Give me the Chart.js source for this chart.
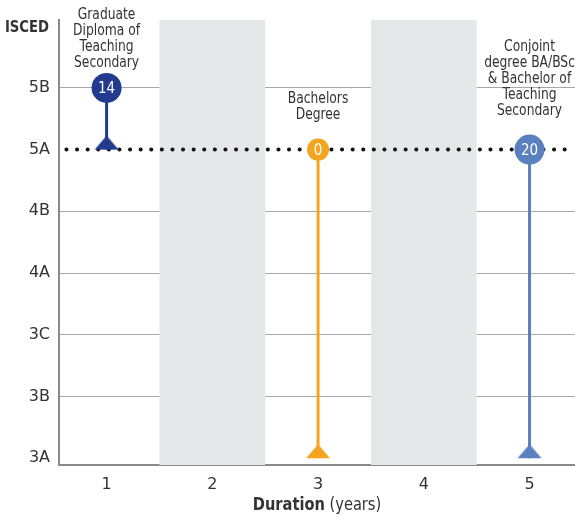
<!DOCTYPE html>
<html>
<head>
<meta charset="utf-8">
<script src="https://cdn.jsdelivr.net/npm/chart.js@4"></script>
<style>
body{margin:0;background:#fff;}
#wrap{width:575px;height:517px;}
</style>
</head>
<body>
<div id="wrap"><canvas id="c" width="575" height="517"></canvas></div>
<script>
// ISCED levels, bottom to top
const levels=["3A","3B","3C","4A","4B","5A","5B"];
const years=[1,2,3,4,5];
const shadedYears=[2,4];

const programmes=[
 ["Graduate","Diploma of","Teaching","Secondary"],
 ["Bachelors","Degree"],
 ["Conjoint","degree BA/BSc","& Bachelor of","Teaching","Secondary"]
];
const durations=[1,3,5];
const entryLevel=["5A","3A","3A"];
const outcomeLevel=["5B","5A","5A"];
const counts=[14,0,20];
const colours=["#233b8f","#f4a520","#5a80bf"];
const dottedLevel="5A";

const FONT="'Liberation Sans Narrow','DejaVu Sans',sans-serif";
const TXT="#333";

function lv(l){return levels.indexOf(l);}

// triangle whose base sits at the point centre
function triangle(col){
  const c=document.createElement("canvas");
  c.width=26;c.height=30;
  const g=c.getContext("2d");
  g.fillStyle=col;
  g.beginPath();g.moveTo(13,1);g.lineTo(25,15);g.lineTo(1,15);g.closePath();g.fill();
  return c;
}

function narrowText(ctx,t,x,y,sq){
  ctx.save();
  ctx.translate(x,y);ctx.scale(sq,1);
  ctx.fillText(t,0,0);
  ctx.restore();
}

const datasets=[];

// dotted 5A line
datasets.push({
 type:"line",
 data:[{x:0.62,y:lv(dottedLevel)},{x:5.43,y:lv(dottedLevel)}],
 borderColor:"#111",borderWidth:4,borderDash:[0.1,10.5],borderCapStyle:"round",
 pointRadius:0,order:5
});

// stems
durations.forEach((d,i)=>{
 datasets.push({
  type:"line",
  data:[{x:d,y:lv(entryLevel[i])},{x:d,y:lv(outcomeLevel[i])}],
  borderColor:colours[i],borderWidth:3,pointRadius:0,order:4
 });
});

// triangles
datasets.push({
 type:"scatter",
 data:durations.map((d,i)=>({x:d,y:lv(entryLevel[i])})),
 pointStyle:colours.map(triangle),
 order:3
});

// circles
datasets.push({
 type:"scatter",
 data:durations.map((d,i)=>({x:d,y:lv(outcomeLevel[i])})),
 pointStyle:"circle",
 pointRadius:counts.map(v=>v===0?11:15),
 backgroundColor:colours,borderColor:colours,borderWidth:0,
 order:1
});

const decor={
 id:"decor",
 beforeDatasetsDraw(chart){
  const {ctx,chartArea:a,scales:{x}}=chart;
  ctx.save();
  ctx.fillStyle="#e6e7e9";
  shadedYears.forEach(v=>{
   const l=x.getPixelForValue(v-0.5),r=x.getPixelForValue(v+0.5);
   ctx.fillRect(l,a.top,r-l,a.bottom-a.top);
  });
  ctx.restore();
 },
 afterDatasetsDraw(chart){
  const {ctx,chartArea:a}=chart;
  const meta=chart.getDatasetMeta(datasets.length-1);
  ctx.save();
  ctx.textAlign="center";ctx.textBaseline="middle";
  meta.data.forEach((p,i)=>{
   const r=p.options.radius;
   ctx.fillStyle="#fff";
   ctx.font="15px "+FONT;
   narrowText(ctx,String(counts[i]),p.x,p.y+1,0.9);
   ctx.fillStyle=TXT;
   ctx.font="15px "+FONT;
   const lines=programmes[i];
   const lh=16;
   let first=p.y-r-24-(lines.length-1)*lh;
   if(first<15)first=15;
   lines.forEach((t,k)=>narrowText(ctx,t,p.x,first+k*lh,0.82));
  });
  // ISCED heading
  ctx.font="bold 15px "+FONT;
  ctx.textAlign="right";
  narrowText(ctx,"ISCED",a.left-10,a.top+8,0.88);
  // x title with bold first word
  ctx.textAlign="left";
  const b="Duration",n=" (years)";
  ctx.font="bold 17px "+FONT;const wb=ctx.measureText(b).width*0.86;
  ctx.font="17px "+FONT;const wn=ctx.measureText(n).width*0.86;
  const cx=(a.left+a.right)/2-(wb+wn)/2;
  const ty=a.bottom+41;
  ctx.font="bold 17px "+FONT;narrowText(ctx,b,cx,ty,0.86);
  ctx.font="17px "+FONT;narrowText(ctx,n,cx+wb,ty,0.86);
  ctx.restore();
 }
};

new Chart(document.getElementById("c"),{
 data:{datasets},
 options:{
  responsive:false,animation:false,
  layout:{autoPadding:false,padding:{top:20,right:0,left:0,bottom:0}},
  plugins:{legend:{display:false},tooltip:{enabled:false}},
  scales:{
   x:{type:"linear",min:0.55,max:5.43,
    afterBuildTicks(s){s.ticks=years.map(v=>({value:v}));},
    afterFit(s){s.height=52;s.paddingRight=0;s.paddingLeft=0;},
    grid:{display:false,drawTicks:false},
    border:{color:"#8a8a8a",width:2},
    ticks:{color:TXT,font:{family:FONT,size:16},padding:10,callback:v=>String(v)}
   },
   y:{type:"linear",min:-0.11,max:7.1,
    afterBuildTicks(s){s.ticks=levels.map((l,i)=>({value:i}));},
    afterFit(s){s.width=59;s.paddingTop=0;s.paddingBottom=0;},
    grid:{drawTicks:false,color:c=>c.tick&&(levels[c.tick.value]===dottedLevel||c.tick.value===0)?"rgba(0,0,0,0)":"#a7a7a7",lineWidth:1},
    border:{color:"#8a8a8a",width:2},
    ticks:{color:TXT,font:{family:FONT,size:16},padding:9,callback:v=>levels[v]}
   }
  }
 },
 plugins:[decor]
});
</script>
</body>
</html>
